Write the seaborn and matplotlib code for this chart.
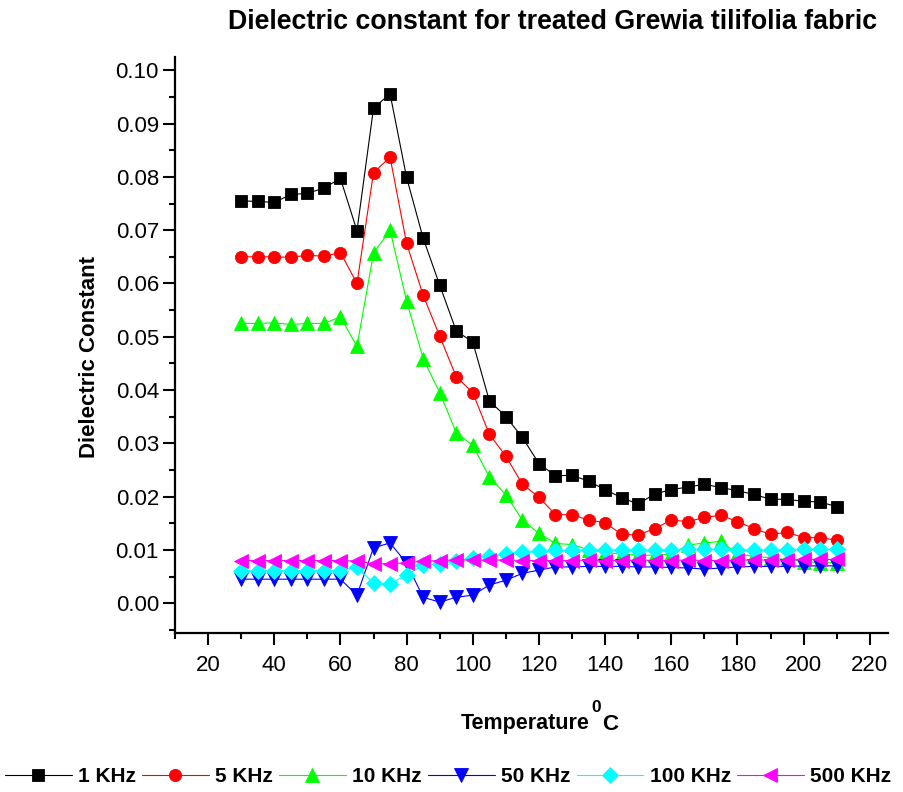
import matplotlib
matplotlib.use("Agg")
import matplotlib.pyplot as plt
import seaborn as sns
from matplotlib.ticker import MultipleLocator, FormatStrFormatter

# ---------------- data ----------------
temperature = [30, 35, 40, 45, 50, 55, 60, 65, 70, 75, 80, 85, 90, 95, 100, 105, 110,
               115, 120, 125, 130, 135, 140, 145, 150, 155, 160, 165, 170, 175, 180,
               185, 190, 195, 200, 205, 210]

khz_1 = [0.0755, 0.0754, 0.0752, 0.0767, 0.0769, 0.0779, 0.0797, 0.0699, 0.0929, 0.0956,
         0.0799, 0.0685, 0.0597, 0.0511, 0.0490, 0.0380, 0.0350, 0.0311, 0.0262, 0.0239,
         0.0240, 0.0229, 0.0213, 0.0198, 0.0186, 0.0205, 0.0213, 0.0218, 0.0223, 0.0217,
         0.0211, 0.0204, 0.0195, 0.0195, 0.0191, 0.0190, 0.0181]

khz_5 = [0.0650, 0.0650, 0.0650, 0.0649, 0.0653, 0.0651, 0.0658, 0.0600, 0.0808, 0.0837,
         0.0675, 0.0578, 0.0501, 0.0425, 0.0395, 0.0317, 0.0276, 0.0223, 0.0199, 0.0166,
         0.0166, 0.0156, 0.0151, 0.0129, 0.0128, 0.0140, 0.0156, 0.0153, 0.0161, 0.0165,
         0.0153, 0.0140, 0.0129, 0.0133, 0.0123, 0.0123, 0.0118]

khz_10 = [0.0525, 0.0525, 0.0526, 0.0523, 0.0525, 0.0525, 0.0537, 0.0482, 0.0657, 0.0700,
          0.0567, 0.0459, 0.0395, 0.0320, 0.0296, 0.0237, 0.0203, 0.0156, 0.0131, 0.0112,
          0.0110, 0.0100, 0.0095, 0.0092, 0.0090, 0.0090, 0.0092, 0.0109, 0.0113, 0.0116,
          0.0092, 0.0088, 0.0085, 0.0082, 0.0078, 0.0076, 0.0076]

khz_50 = [0.0045, 0.0045, 0.0045, 0.0045, 0.0045, 0.0045, 0.0045, 0.0015, 0.0104, 0.0113,
          0.0075, 0.0011, 0.0002, 0.0011, 0.0015, 0.0034, 0.0043, 0.0056, 0.0062, 0.0068,
          0.0068, 0.0069, 0.0069, 0.0069, 0.0068, 0.0068, 0.0067, 0.0066, 0.0064, 0.0066,
          0.0068, 0.0069, 0.0069, 0.0069, 0.0070, 0.0070, 0.0070]

khz_100 = [0.0061, 0.0061, 0.0061, 0.0061, 0.0061, 0.0061, 0.0061, 0.0068, 0.0037, 0.0036,
           0.0053, 0.0071, 0.0074, 0.0080, 0.0085, 0.0088, 0.0092, 0.0096, 0.0097, 0.0099,
           0.0099, 0.0100, 0.0100, 0.0100, 0.0100, 0.0100, 0.0100, 0.0101, 0.0101, 0.0101,
           0.0100, 0.0100, 0.0100, 0.0100, 0.0101, 0.0101, 0.0101]

khz_500 = [0.0080, 0.0080, 0.0080, 0.0080, 0.0080, 0.0080, 0.0080, 0.0079, 0.0074, 0.0074,
           0.0076, 0.0079, 0.0080, 0.0081, 0.0081, 0.0081, 0.0081, 0.0080, 0.0080, 0.0080,
           0.0080, 0.0081, 0.0080, 0.0080, 0.0081, 0.0080, 0.0080, 0.0081, 0.0080, 0.0080,
           0.0081, 0.0081, 0.0081, 0.0081, 0.0082, 0.0082, 0.0082]

series_labels = ["1 KHz", "5 KHz", "10 KHz", "50 KHz", "100 KHz", "500 KHz"]
series_values = [khz_1, khz_5, khz_10, khz_50, khz_100, khz_500]

title_text = "Dielectric constant for treated Grewia tilifolia fabric"
y_label = "Dielectric Constant"

# ---------------- style ----------------
colors = ["#000000", "#FF0000", "#00FF00", "#0000FF", "#00FFFF", "#FF00FF"]
markers = ["s", "o", "^", "v", "D", "<"]
msizes = [8.4, 8.8, 10.0, 10.0, 7.8, 10.0]

sns.set_theme(style="ticks", rc={
    "axes.edgecolor": "black", "xtick.color": "black", "ytick.color": "black",
    "text.color": "black", "axes.labelcolor": "black",
})
plt.rcParams["font.family"] = ["Liberation Sans", "DejaVu Sans"]

W, H = 904, 792
fig = plt.figure(figsize=(W / 100, H / 100), dpi=100)
ax = fig.add_axes([175 / W, 1 - 633 / H, 713 / W, 576 / H])

for lab, vals, col, mk, ms in zip(series_labels, series_values, colors, markers, msizes):
    sns.lineplot(x=temperature, y=vals, ax=ax, color=col, marker=mk, markersize=ms,
                 markeredgewidth=0.6, markeredgecolor=col, linewidth=0.8, label=lab,
                 errorbar=None)

ax.set_xlim(10, 225.5)
ax.set_ylim(-0.0056, 0.1025)
ax.xaxis.set_major_locator(MultipleLocator(20))
ax.xaxis.set_minor_locator(MultipleLocator(10))
ax.yaxis.set_major_locator(MultipleLocator(0.01))
ax.yaxis.set_minor_locator(MultipleLocator(0.005))
ax.yaxis.set_major_formatter(FormatStrFormatter("%.2f"))

for s in ["top", "right"]:
    ax.spines[s].set_visible(False)
for s in ["left", "bottom"]:
    ax.spines[s].set_linewidth(1.6)

ax.tick_params(which="major", direction="out", length=8.6, width=1.5, labelsize=16)
ax.tick_params(which="minor", direction="out", length=4.3, width=1.5)
ax.tick_params(axis="x", which="major", pad=7.5)
ax.tick_params(axis="y", which="major", pad=3)

ax.set_xlabel("")
ax.set_ylabel(y_label, fontsize=16, fontweight="bold")
ax.yaxis.set_label_coords(-0.105, 0.48)

fig.text(553 / W, 1 - 22 / H, title_text, ha="center", va="center",
         fontsize=19.3, fontweight="bold")

# x-axis label: "Temperature" with a superscript 0 and C
fig.text(589.5 / W, 1 - 729.5 / H, "Temperature", ha="right", va="baseline",
         fontsize=15.5, fontweight="bold")
fig.text(591.5 / W, 1 - 711.5 / H, "0", ha="left", va="baseline",
         fontsize=12.5, fontweight="bold")
fig.text(602 / W, 1 - 729.5 / H, "C", ha="left", va="baseline",
         fontsize=16, fontweight="bold")

handles, labels = ax.get_legend_handles_labels()
if ax.get_legend() is not None:
    ax.get_legend().remove()
fig.legend(handles, labels, loc="center", bbox_to_anchor=(448 / W, 1 - 777 / H), ncol=6,
           frameon=False, handlelength=3.2, handletextpad=0.3, columnspacing=0.3,
           prop={"weight": "bold", "size": 15}, borderaxespad=0, borderpad=0)

fig.savefig("out.png", dpi=100)
